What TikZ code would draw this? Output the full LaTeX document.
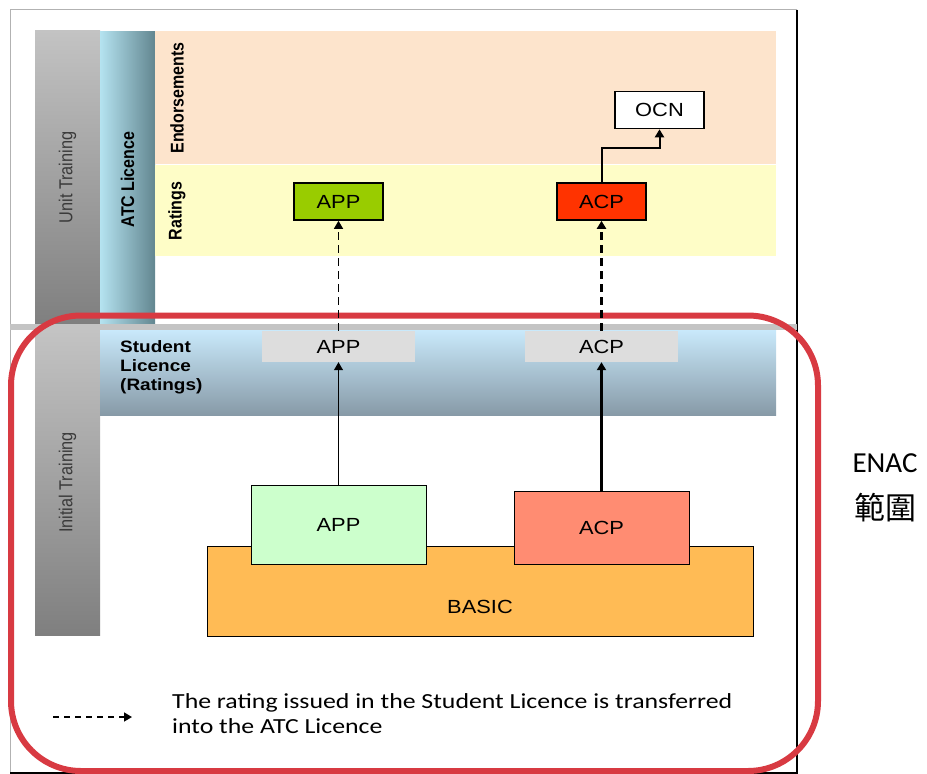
\documentclass[tikz,border=0pt]{standalone}
\usepackage{fontspec}
\setmainfont{Liberation Sans}
\newfontfamily\widesans[FakeStretch=1.15]{Liberation Sans}
\newfontfamily\notefont[FakeStretch=1.2]{Carlito}
\newfontfamily\enacfont{Carlito}
\newfontfamily\cjk{Noto Sans CJK TC}
\usetikzlibrary{arrows.meta}
\definecolor{endpeach}{HTML}{FDE4CC}
\definecolor{ratyellow}{HTML}{FEFDC7}
\definecolor{slotgray}{HTML}{DDDDDD}
\definecolor{appgreen}{HTML}{99CC00}
\definecolor{acpred}{HTML}{FF3300}
\definecolor{applight}{HTML}{CCFFCC}
\definecolor{acpsalmon}{HTML}{FF8C72}
\definecolor{basicorange}{HTML}{FFBB55}
\definecolor{enacred}{HTML}{D83A42}
\definecolor{labelgray}{HTML}{3A3A3A}
\definecolor{bartop}{HTML}{C3C3C3}
\definecolor{barbottom}{HTML}{7F7F7F}
\definecolor{atcleft}{HTML}{B5E3F0}
\definecolor{atcright}{HTML}{628690}
\definecolor{studtop}{HTML}{C9E9FB}
\definecolor{studbottom}{HTML}{879AA7}
\definecolor{sepgray}{HTML}{C4C4C4}
\tikzstyle{area} = [rectangle, draw=none, inner sep=0pt, outer sep=0pt, anchor=north west]
\tikzstyle{rating} = [rectangle, draw=black, line width=1.6pt, minimum width=89pt, minimum height=37pt, inner sep=0pt, font=\widesans\fontsize{19}{21}\selectfont]
\tikzstyle{slot} = [rectangle, fill=slotgray, minimum width=153pt, minimum height=31pt, inner sep=0pt, font=\widesans\fontsize{19}{21}\selectfont]
\tikzstyle{course} = [rectangle, draw=black, line width=1pt, minimum width=175pt, inner sep=0pt, font=\widesans\fontsize{19}{21}\selectfont]
\tikzstyle{sidelabel} = [xscale=1.15, rotate=90, transform shape, text=labelgray, font=\fontsize{16.3}{18}\selectfont]
\tikzstyle{rowlabel} = [xscale=1.15, rotate=90, transform shape, font=\bfseries\fontsize{16}{18}\selectfont]
\tikzstyle{transfer} = [dash pattern=on 8pt off 5pt, -{Triangle[width=9pt,length=8pt]}]
\tikzstyle{arrow} = [-{Triangle[width=9pt,length=8pt]}]

\begin{document}
\begin{tikzpicture}[x=1pt, y=-1pt]
\useasboundingbox (0,0) rectangle (927,774);
% frame
\draw[gray!60, line width=1pt] (10,773) -- (10,9.5) -- (797,9.5);
\draw[black, line width=2pt] (797,9.5) -- (797,773) -- (10,773);

% licence areas
\node (unitbar) [area, minimum width=65pt, minimum height=295pt, top color=bartop, bottom color=barbottom] at (35,30) {};
\node (atcbar) [area, minimum width=55pt, minimum height=297pt, left color=atcleft, right color=atcright] at (100,31) {};
\node (endband) [area, minimum width=621pt, minimum height=133pt, fill=endpeach] at (155,31) {};
\node (ratband) [area, minimum width=621pt, minimum height=91pt, fill=ratyellow] at (155,165) {};
\fill[sepgray] (10,324) rectangle (797,330);
\node (initbar) [area, minimum width=65pt, minimum height=305pt, top color=bartop, bottom color=barbottom] at (35,330) {};
\node (studband) [area, minimum width=676pt, minimum height=85pt, top color=studtop, bottom color=studbottom] at (100,330) {};

\node [sidelabel] at (unitbar.center) {Unit Training};
\node [sidelabel] at (initbar.center) {Initial Training};
\node [rowlabel] at (atcbar.center) {ATC Licence};
\node [rowlabel] at (177,98) {Endorsements};
\node [rowlabel] at (177,211) {Ratings};
\node (studtext) [anchor=north west, inner sep=0pt, align=left, font=\widesans\bfseries\fontsize{16.5}{19}\selectfont] at (120,340) {Student\\Licence\\(Ratings)};

% ratings
\node (appslot) [slot] at (338.5,346.5) {APP};
\node (acpslot) [slot] at (601.5,346.5) {ACP};
\node (appatc) [rating, fill=appgreen] at (338.5,201.5) {APP};
\node (acpatc) [rating, fill=acpred] at (601.5,201.5) {ACP};
\node (ocn) [rating, fill=white] at (659.5,110) {OCN};

% courses
\node (basic) [area, draw=black, line width=1pt, minimum width=546pt, minimum height=90pt, fill=basicorange] at (207,546) {};
\node [font=\widesans\fontsize{19}{21}\selectfont] at ([yshift=-16pt]basic.center) {BASIC};
\node (appinit) [course, minimum height=79pt, fill=applight] at (338.5,524.5) {APP};
\node (acpinit) [course, minimum height=73pt, fill=acpsalmon] at (601.5,527.5) {ACP};

% ENAC scope
\draw[enacred, line width=6pt, rounded corners=70pt] (11,315.5) rectangle (818,771);
\node (enac) [anchor=base, font=\enacfont\fontsize{29}{32}\selectfont] at (885,472) {ENAC};
\node (scope) [font=\cjk\fontsize{31}{34}\selectfont] at (885,508) {範圍};

% connectors
\draw [transfer, line width=1.3pt] (appslot.north) -- (appatc.south);
\draw [transfer, line width=2.6pt] (acpslot.north) -- (acpatc.south);
\draw [arrow, line width=1.2pt] (appinit.north) -- (appslot.south);
\draw [arrow, line width=2.4pt] (acpinit.north) -- (acpslot.south);
\draw [arrow, line width=2pt] (acpatc.north) -- ++(0,-34) -| (ocn.south);

% legend
\coordinate (legstart) at (53,717);
\coordinate (legend) at (132,717);
\draw [transfer, line width=1.6pt, dash pattern=on 6pt off 5pt] (legstart) -- (legend);
\node (note) [anchor=north west, inner sep=0pt, align=left, font=\notefont\fontsize{21.5}{25}\selectfont] at (172,693) {The rating issued in the Student Licence is transferred\\into the ATC Licence};
\end{tikzpicture}
\end{document}
